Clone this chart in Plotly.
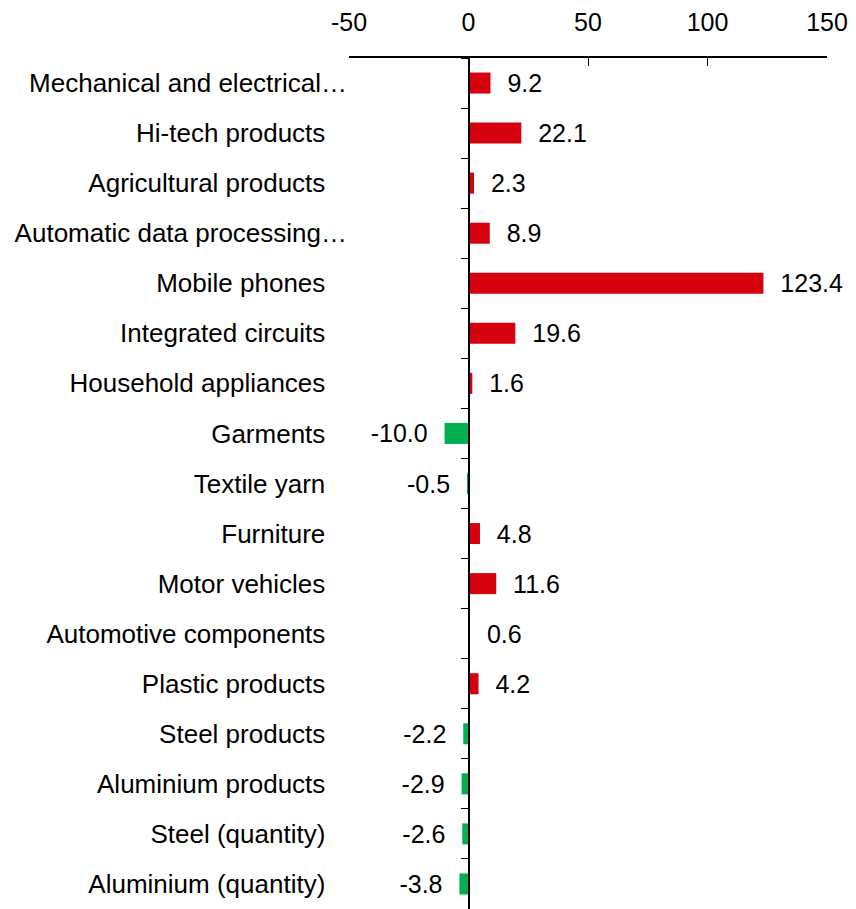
import plotly.graph_objects as go

categories = [
    "Mechanical and electrical…",
    "Hi-tech products",
    "Agricultural products",
    "Automatic data processing…",
    "Mobile phones",
    "Integrated circuits",
    "Household appliances",
    "Garments",
    "Textile yarn",
    "Furniture",
    "Motor vehicles",
    "Automotive components",
    "Plastic products",
    "Steel products",
    "Aluminium products",
    "Steel (quantity)",
    "Aluminium (quantity)",
]
values = [9.2, 22.1, 2.3, 8.9, 123.4, 19.6, 1.6, -10.0, -0.5, 4.8, 11.6, 0.6, 4.2, -2.2, -2.9, -2.6, -3.8]
x_ticks = [-50, 0, 50, 100, 150]
x_tick_text = ["-50", "0", "50", "100", "150"]

RED = "#d7000f"
GREEN = "#00b050"
FONT = "Liberation Sans, Arial, sans-serif"
NB = "\u00a0\u00a0"

colors = [RED if v >= 0 else GREEN for v in values]
# pad labels away from the bar ends
labels = [(NB + f"{v:.1f}") if v >= 0 else (f"{v:.1f}" + NB) for v in values]
# truncated names sit closer to the axis than full ones
cat_text = [c if c.endswith("…") else c + "\u00a0" * 3 for c in categories]

fig = go.Figure()
fig.add_trace(go.Bar(
    y=categories, x=values, orientation="h",
    marker=dict(color=colors, line=dict(width=0)),
    text=labels, textposition="outside", constraintext="none",
    textfont=dict(size=25, color="black", family=FONT),
    cliponaxis=False, hoverinfo="skip",
))
# invisible trace that carries the zero axis (line + category boundary ticks)
fig.add_trace(go.Scatter(
    y=categories, x=values, yaxis="y2", mode="markers",
    marker=dict(opacity=0), hoverinfo="skip", showlegend=False,
))

n = len(categories)

# page body has an 8px margin, so the figure is a bit smaller than the window
fig.update_layout(
    width=848, height=901,
    margin=dict(l=341, r=29, t=50, b=0),
    paper_bgcolor="white", plot_bgcolor="white",
    showlegend=False, bargap=0.58,
    font=dict(family=FONT, size=25, color="black"),
    xaxis=dict(
        side="top", range=[-50, 150], tickvals=x_ticks, ticktext=x_tick_text,
        ticks="inside", ticklen=8, tickcolor="black", ticklabelstandoff=15,
        showline=True, linecolor="black", linewidth=1.5,
        showgrid=False, zeroline=False, automargin=False,
        tickfont=dict(size=25),
    ),
    yaxis=dict(
        categoryorder="array", categoryarray=categories,
        tickvals=categories, ticktext=cat_text,
        range=[n - 0.5, -0.5], showline=False, showgrid=False,
        zeroline=False, ticks="", ticklabelstandoff=1, automargin=False,
        tickfont=dict(size=26),
    ),
    yaxis2=dict(
        overlaying="y", matches="y", anchor="free", position=0.25,
        side="left", showline=True, linecolor="black", linewidth=1.5,
        ticks="outside", tickson="boundaries", ticklen=7, tickcolor="black",
        showticklabels=False, showgrid=False, zeroline=False, automargin=False,
        categoryorder="array", categoryarray=categories,
    ),
)

fig.write_html("out.html")
